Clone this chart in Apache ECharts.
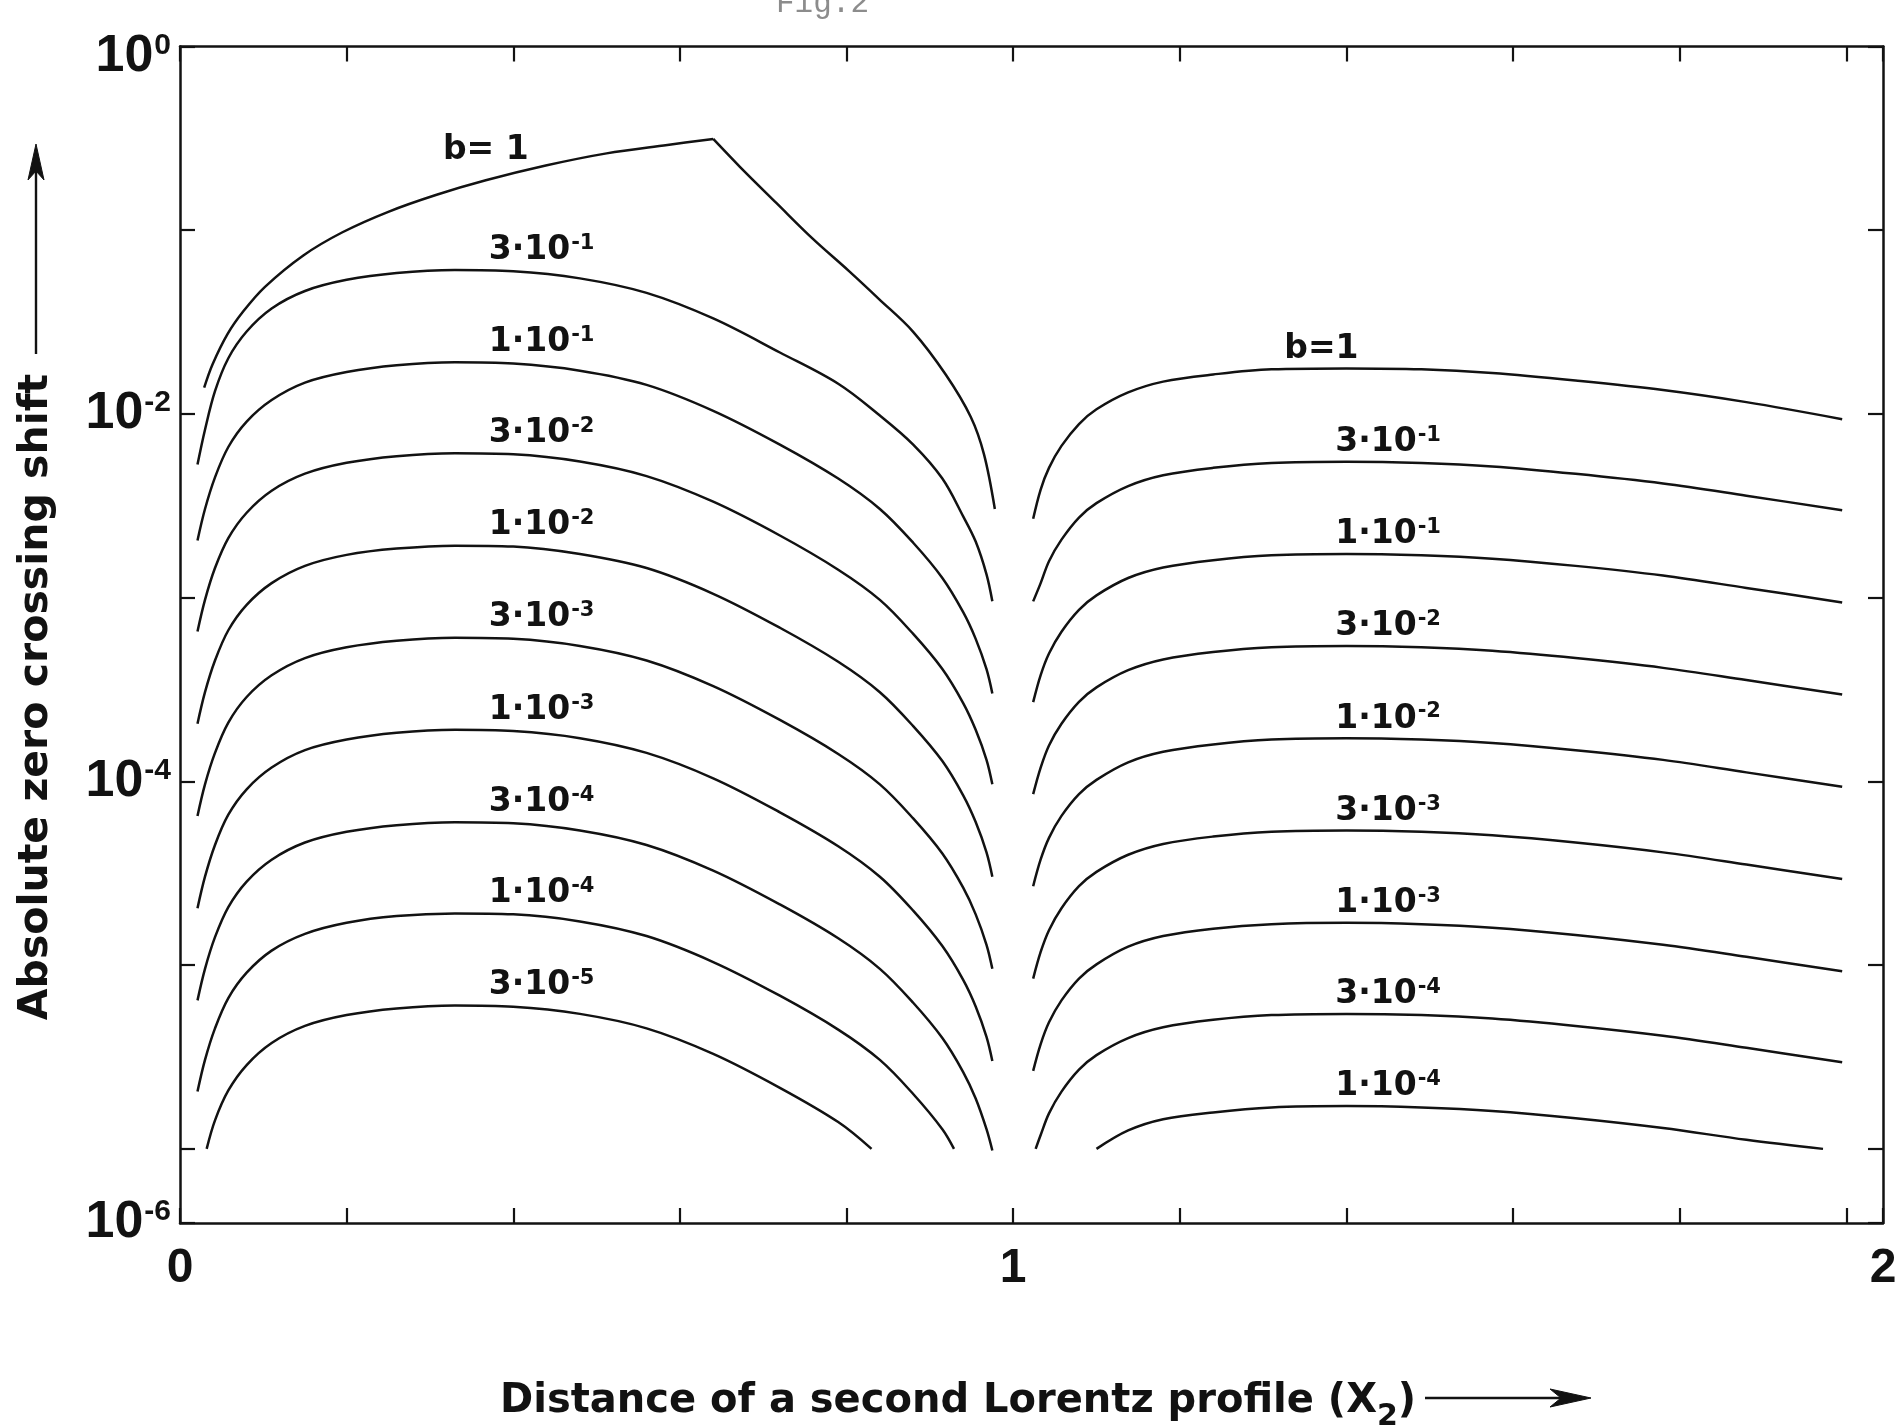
<!DOCTYPE html>
<html>
<head>
<meta charset="utf-8">
<style>
  html, body { margin: 0; padding: 0; background: #ffffff; }
  #chart { width: 1902px; height: 1426px; }
</style>
<script src="https://cdn.jsdelivr.net/npm/echarts@6/dist/echarts.min.js"></script>
</head>
<body>
<div id="chart"></div>
<script>
// ---------------------------------------------------------------------------
// Absolute zero crossing shift vs. distance X2 of a second Lorentz profile,
// one curve per amplitude ratio b.  Curves stop where they reach 1e-6.
// ---------------------------------------------------------------------------

// Left family: 0 < X2 < 1
const xLeft = [0.021, 0.03, 0.042, 0.058, 0.08, 0.11, 0.15, 0.2, 0.26, 0.33, 0.4, 0.48,
               0.56, 0.64, 0.72, 0.79, 0.84, 0.88, 0.915, 0.94, 0.955, 0.968, 0.975];

const xLeftB1Rise = [0.029, 0.039, 0.057, 0.076, 0.102, 0.148, 0.195, 0.25, 0.308, 0.367, 0.439, 0.512, 0.585, 0.64];
const leftB1Rise  = [1.39e-2, 1.86e-2, 2.72e-2, 3.62e-2, 4.92e-2, 7.29e-2, 9.75e-2, 0.126, 0.156, 0.187, 0.225, 0.262, 0.291, 0.314];
const xLeftB1Fall = [0.64, 0.672, 0.716, 0.759, 0.803, 0.839, 0.88, 0.919, 0.949, 0.965, 0.978];
const leftB1Fall  = [0.314, 0.2215, 0.1404, 9.03e-2, 5.99e-2, 4.22e-2, 2.80e-2, 1.64e-2, 9.66e-3, 6.03e-3, 3.04e-3];

const left3e1 = [5.30e-3, 8.20e-3, 1.33e-2, 2.01e-2, 2.81e-2, 3.75e-2, 4.67e-2, 5.37e-2, 5.85e-2, 6.07e-2, 5.98e-2, 5.47e-2,
                 4.56e-2, 3.31e-2, 2.16e-2, 1.46e-2, 9.80e-3, 6.81e-3, 4.45e-3, 2.77e-3, 2.02e-3, 1.34e-3, 9.57e-4];
const left1e1 = [2.05e-3, 3.04e-3, 4.52e-3, 6.61e-3, 9.08e-3, 1.19e-2, 1.48e-2, 1.69e-2, 1.84e-2, 1.91e-2, 1.88e-2, 1.72e-2,
                 1.44e-2, 1.04e-2, 6.81e-3, 4.45e-3, 3.04e-3, 1.99e-3, 1.28e-3, 8.34e-4, 5.97e-4, 4.08e-4, 3.01e-4];
const left3e2 = [6.55e-4, 9.73e-4, 1.45e-3, 2.11e-3, 2.90e-3, 3.82e-3, 4.73e-3, 5.42e-3, 5.89e-3, 6.11e-3, 6.03e-3, 5.51e-3,
                 4.59e-3, 3.33e-3, 2.18e-3, 1.42e-3, 9.73e-4, 6.35e-4, 4.09e-4, 2.67e-4, 1.91e-4, 1.31e-4, 9.64e-5];
const left1e2 = [2.06e-4, 3.06e-4, 4.55e-4, 6.65e-4, 9.14e-4, 1.20e-3, 1.49e-3, 1.71e-3, 1.85e-3, 1.92e-3, 1.90e-3, 1.73e-3,
                 1.45e-3, 1.05e-3, 6.86e-4, 4.48e-4, 3.06e-4, 2.00e-4, 1.29e-4, 8.40e-5, 6.01e-5, 4.11e-5, 3.03e-5];
const left3e3 = [6.49e-5, 9.64e-5, 1.43e-4, 2.09e-4, 2.88e-4, 3.78e-4, 4.69e-4, 5.37e-4, 5.83e-4, 6.05e-4, 5.97e-4, 5.46e-4,
                 4.55e-4, 3.30e-4, 2.16e-4, 1.41e-4, 9.64e-5, 6.29e-5, 4.05e-5, 2.64e-5, 1.89e-5, 1.29e-5, 9.55e-6];
const left1e3 = [2.04e-5, 3.03e-5, 4.51e-5, 6.59e-5, 9.06e-5, 1.19e-4, 1.48e-4, 1.69e-4, 1.84e-4, 1.91e-4, 1.88e-4, 1.72e-4,
                 1.43e-4, 1.04e-4, 6.79e-5, 4.44e-5, 3.03e-5, 1.98e-5, 1.27e-5, 8.32e-6, 5.96e-6, 4.07e-6, 3.01e-6];
const left3e4 = [6.43e-6, 9.55e-6, 1.42e-5, 2.07e-5, 2.85e-5, 3.75e-5, 4.65e-5, 5.32e-5, 5.78e-5, 6.00e-5, 5.92e-5, 5.41e-5,
                 4.51e-5, 3.27e-5, 2.14e-5, 1.40e-5, 9.55e-6, 6.24e-6, 4.01e-6, 2.62e-6, 1.88e-6, 1.28e-6, 9.8e-7];

const xLeft1e4 = [0.021, 0.03, 0.042, 0.058, 0.08, 0.11, 0.15, 0.2, 0.26, 0.33, 0.4, 0.48,
                  0.56, 0.64, 0.72, 0.79, 0.84, 0.88, 0.915, 0.929];
const left1e4  = [2.05e-6, 3.05e-6, 4.53e-6, 6.62e-6, 9.10e-6, 1.20e-5, 1.48e-5, 1.70e-5, 1.85e-5, 1.91e-5, 1.89e-5, 1.73e-5,
                  1.44e-5, 1.04e-5, 6.82e-6, 4.46e-6, 3.05e-6, 1.99e-6, 1.28e-6, 1.0e-6];

const xLeft3e5 = [0.032, 0.042, 0.058, 0.08, 0.11, 0.15, 0.2, 0.26, 0.33, 0.4, 0.48, 0.56, 0.64, 0.72, 0.79, 0.83];
const left3e5  = [1.0e-6, 1.43e-6, 2.08e-6, 2.86e-6, 3.77e-6, 4.67e-6, 5.35e-6, 5.81e-6, 6.03e-6, 5.94e-6, 5.43e-6,
                  4.53e-6, 3.29e-6, 2.15e-6, 1.40e-6, 1.0e-6];

// Right family: 1 < X2 < 2
const xRight = [1.024, 1.033, 1.043, 1.058, 1.079, 1.10, 1.138, 1.18, 1.24, 1.31, 1.40, 1.49, 1.575, 1.675, 1.78, 1.88, 1.995];

const rightB1  = [2.69e-3, 3.88e-3, 5.09e-3, 6.70e-3, 8.81e-3, 1.06e-2, 1.31e-2, 1.50e-2, 1.64e-2, 1.75e-2, 1.77e-2, 1.75e-2,
                  1.67e-2, 1.52e-2, 1.35e-2, 1.16e-2, 9.37e-3];
const right3e1 = [9.55e-4, 1.20e-3, 1.58e-3, 2.07e-3, 2.73e-3, 3.27e-3, 4.05e-3, 4.64e-3, 5.09e-3, 5.41e-3, 5.50e-3, 5.41e-3,
                  5.18e-3, 4.72e-3, 4.18e-3, 3.59e-3, 2.99e-3];
const right1e1 = [2.70e-4, 3.79e-4, 4.97e-4, 6.53e-4, 8.59e-4, 1.03e-3, 1.28e-3, 1.46e-3, 1.60e-3, 1.70e-3, 1.73e-3, 1.70e-3,
                  1.63e-3, 1.49e-3, 1.32e-3, 1.13e-3, 9.42e-4];
const right3e2 = [8.53e-5, 1.19e-4, 1.57e-4, 2.06e-4, 2.71e-4, 3.25e-4, 4.03e-4, 4.61e-4, 5.06e-4, 5.37e-4, 5.46e-4, 5.37e-4,
                  5.14e-4, 4.69e-4, 4.15e-4, 3.56e-4, 2.97e-4];
const right1e2 = [2.69e-5, 3.76e-5, 4.93e-5, 6.49e-5, 8.53e-5, 1.02e-4, 1.27e-4, 1.45e-4, 1.59e-4, 1.69e-4, 1.72e-4, 1.69e-4,
                  1.62e-4, 1.48e-4, 1.31e-4, 1.12e-4, 9.35e-5];
const right3e3 = [8.45e-6, 1.18e-5, 1.55e-5, 2.04e-5, 2.69e-5, 3.22e-5, 3.99e-5, 4.57e-5, 5.01e-5, 5.32e-5, 5.41e-5, 5.32e-5,
                  5.09e-5, 4.65e-5, 4.11e-5, 3.53e-5, 2.94e-5];
const right1e3 = [2.66e-6, 3.72e-6, 4.89e-6, 6.43e-6, 8.45e-6, 1.01e-5, 1.26e-5, 1.44e-5, 1.58e-5, 1.67e-5, 1.70e-5, 1.67e-5,
                  1.60e-5, 1.46e-5, 1.29e-5, 1.11e-5, 9.27e-6];

const xRight3e4 = [1.027, 1.033, 1.043, 1.058, 1.079, 1.10, 1.138, 1.18, 1.24, 1.31, 1.40, 1.49, 1.575, 1.675, 1.78, 1.88, 1.995];
const right3e4  = [1.0e-6, 1.19e-6, 1.56e-6, 2.05e-6, 2.70e-6, 3.24e-6, 4.01e-6, 4.59e-6, 5.04e-6, 5.35e-6, 5.43e-6, 5.35e-6,
                   5.12e-6, 4.67e-6, 4.13e-6, 3.55e-6, 2.96e-6];

const xRight1e4 = [1.10, 1.138, 1.18, 1.24, 1.31, 1.40, 1.49, 1.575, 1.675, 1.78, 1.88, 1.972];
const right1e4  = [1.0e-6, 1.26e-6, 1.45e-6, 1.58e-6, 1.68e-6, 1.71e-6, 1.68e-6, 1.61e-6, 1.47e-6, 1.30e-6, 1.12e-6, 1.0e-6];

// Curve parameters b, top to bottom
const bLeft  = [1, 3e-1, 1e-1, 3e-2, 1e-2, 3e-3, 1e-3, 3e-4, 1e-4, 3e-5];
const bRight = [1, 3e-1, 1e-1, 3e-2, 1e-2, 3e-3, 1e-3, 3e-4, 1e-4];

// Axis ranges: the frame runs slightly past the last tick (x = 2, y = 1e-6)
const X_MAX = 2.044;
const Y_MIN = 3.95e-7;

// ---------------------------------------------------------------------------
const INK = '#121212';
const FONT = '"DejaVu Sans", "Liberation Sans", sans-serif';
const TICK_FONT = '"Liberation Sans", Arial, sans-serif';

const leftCurves = [
  [[xLeftB1Rise, leftB1Rise], [xLeftB1Fall, leftB1Fall]],
  [[xLeft, left3e1]], [[xLeft, left1e1]], [[xLeft, left3e2]], [[xLeft, left1e2]],
  [[xLeft, left3e3]], [[xLeft, left1e3]], [[xLeft, left3e4]],
  [[xLeft1e4, left1e4]], [[xLeft3e5, left3e5]]
];
const rightCurves = [
  [[xRight, rightB1]], [[xRight, right3e1]], [[xRight, right1e1]], [[xRight, right3e2]],
  [[xRight, right1e2]], [[xRight, right3e3]], [[xRight, right1e3]],
  [[xRight3e4, right3e4]], [[xRight1e4, right1e4]]
];

function zip(xs, ys) { return xs.map((x, i) => [x, ys[i]]); }

// log-linear interpolation along one curve, used to seat the b labels
function valueAt(xs, ys, x) {
  for (let i = 1; i < xs.length; i++) {
    if (x <= xs[i]) {
      const t = (x - xs[i - 1]) / (xs[i] - xs[i - 1]);
      const a = Math.log10(ys[i - 1]), c = Math.log10(ys[i]);
      return Math.pow(10, a + t * (c - a));
    }
  }
  return ys[ys.length - 1];
}

function bText(b, side) {
  if (b === 1) return side === 'left' ? '{m|b= 1}' : '{m|b=1}';
  const e = Math.floor(Math.log10(b) + 1e-9);
  const m = Math.round(b / Math.pow(10, e));
  return '{m|' + m + '·10}{e|' + e + '}';
}

const series = [];
function addFamily(curves) {
  curves.forEach(parts => {
    parts.forEach(([xs, ys]) => {
      series.push({
        type: 'line',
        data: zip(xs, ys),
        showSymbol: false,
        symbol: 'none',
        smooth: 0.35,
        silent: true,
        lineStyle: { color: INK, width: 2.5 },
        xAxisIndex: 0, yAxisIndex: 0,
        z: 3
      });
    });
  });
}
addFamily(leftCurves);
addFamily(rightCurves);

// b labels, seated just above each curve
const labelPoints = [];
function addLabels(curves, bs, side) {
  curves.forEach((parts, i) => {
    const b = bs[i];
    let lx, dist;
    if (side === 'left') { lx = b === 1 ? 0.367 : 0.434; dist = b === 1 ? 13 : 7; }
    else { lx = b === 1 ? 1.37 : 1.45; dist = b === 1 ? 2 : 3; }
    const [xs, ys] = parts[0];
    labelPoints.push({
      value: [lx, valueAt(xs, ys, lx)],
      label: { distance: dist, formatter: bText(b, side) }
    });
  });
}
addLabels(leftCurves, bLeft, 'left');
addLabels(rightCurves, bRight, 'right');

series.push({
  type: 'scatter',
  data: labelPoints,
  symbolSize: 1,
  silent: true,
  itemStyle: { color: 'transparent', opacity: 1 },
  z: 4,
  label: {
    show: true,
    position: 'top',
    color: INK,
    opacity: 1,
    rich: {
      m: { fontFamily: FONT, fontSize: 33, lineHeight: 34, fontWeight: 'bold', color: INK, verticalAlign: 'bottom' },
      e: { fontFamily: FONT, fontSize: 21, lineHeight: 21, fontWeight: 'bold', color: INK, padding: [0, 0, 20, 1], verticalAlign: 'top' }
    }
  }
});

// decade labels: a large "10" with a raised exponent
const tickLabelRich = {
  b: { fontFamily: TICK_FONT, fontSize: 52, lineHeight: 52, fontWeight: 'bold', color: INK, verticalAlign: 'bottom' },
  e: { fontFamily: TICK_FONT, fontSize: 30, lineHeight: 30, fontWeight: 'bold', color: INK, padding: [0, 0, 31, 1], verticalAlign: 'top' },
  // empty leading line that lowers the top label a little
  gap: { fontFamily: TICK_FONT, fontSize: 8, lineHeight: 20, color: INK }
};

function yLabel(v) {
  if (v < 6e-7) return '{b|10}{e|-6}';
  const l = Math.log10(v);
  const e = Math.round(l);
  if (Math.abs(l - e) > 0.01) return '';
  if (e === 0) return '{gap| }\n{b|10}{e|0}';
  if (e === -2 || e === -4) return '{b|10}{e|' + e + '}';
  return '';
}
function xLabel(v) {
  if (Math.abs(v) < 1e-9) return '0';
  if (Math.abs(v - 1) < 1e-9) return '1';
  if (v > 2.01) return '2';
  return '';
}

const axisLine = { show: true, onZero: false, lineStyle: { color: INK, width: 2.5 } };
const axisTick = { show: true, inside: true, length: 15, lineStyle: { color: INK, width: 2.2 } };

const option = {
  animation: false,
  backgroundColor: '#ffffff',
  grid: { left: 180, right: 19, top: 46.5, bottom: 203, containLabel: false },
  xAxis: [
    {
      type: 'value', position: 'bottom', min: 0, max: X_MAX, interval: 0.2,
      axisLine: axisLine, axisTick: axisTick, splitLine: { show: false },
      axisLabel: {
        show: true, margin: 22, formatter: xLabel,
        fontFamily: TICK_FONT, fontSize: 48, lineHeight: 48, fontWeight: 'bold', color: INK
      }
    },
    {
      type: 'value', position: 'top', min: 0, max: X_MAX, interval: 0.2,
      axisLine: axisLine, axisTick: axisTick, splitLine: { show: false },
      axisLabel: { show: false }
    }
  ],
  yAxis: [
    {
      type: 'log', logBase: 10, position: 'left', min: Y_MIN, max: 1,
      axisLine: axisLine, axisTick: axisTick, splitLine: { show: false },
      minorTick: { show: false }, minorSplitLine: { show: false },
      axisLabel: { show: true, margin: 9, formatter: yLabel, rich: tickLabelRich }
    },
    {
      type: 'log', logBase: 10, position: 'right', min: Y_MIN, max: 1,
      axisLine: axisLine, axisTick: axisTick, splitLine: { show: false },
      minorTick: { show: false },
      axisLabel: { show: false }
    }
  ],
  series: series,
  graphic: [
    {
      type: 'text', x: 776, y: 19, silent: true,
      style: { text: 'Fig.2', font: '31px "Liberation Mono", "DejaVu Sans Mono", monospace',
               fill: '#8c8c8c', align: 'left', verticalAlign: 'bottom' }
    },
    {
      type: 'text', x: 36, y: 697, rotation: Math.PI / 2, silent: true,
      style: { text: 'Absolute zero crossing shift', font: 'bold 41px ' + FONT,
               fill: INK, align: 'center', verticalAlign: 'middle' }
    },
    {
      type: 'line', silent: true,
      shape: { x1: 36, y1: 168, x2: 36, y2: 354 },
      style: { stroke: INK, lineWidth: 2.4 }
    },
    {
      type: 'polygon', silent: true,
      shape: { points: [[36, 144], [44, 180], [36, 171], [28, 180]] },
      style: { fill: INK, stroke: INK, lineWidth: 1 }
    },
    {
      type: 'text', x: 500, y: 1404, silent: true,
      style: {
        text: '{t|Distance of a second Lorentz profile (X}{s|2}{t|)}',
        align: 'left', verticalAlign: 'middle',
        rich: {
          t: { fontFamily: FONT, fontSize: 40, lineHeight: 44, fontWeight: 'bold', fill: INK, verticalAlign: 'top' },
          s: { fontFamily: FONT, fontSize: 30, lineHeight: 30, fontWeight: 'bold', fill: INK, padding: [20, 0, 0, 0], verticalAlign: 'top' }
        }
      }
    },
    {
      type: 'line', silent: true,
      shape: { x1: 1425, y1: 1398, x2: 1572, y2: 1398 },
      style: { stroke: INK, lineWidth: 2.4 }
    },
    {
      type: 'polygon', silent: true,
      shape: { points: [[1591, 1398], [1550, 1389], [1561, 1398], [1550, 1407]] },
      style: { fill: INK, stroke: INK, lineWidth: 1 }
    }
  ]
};

const chart = echarts.init(document.getElementById('chart'), null, { renderer: 'canvas' });
chart.setOption(option);
</script>
</body>
</html>
